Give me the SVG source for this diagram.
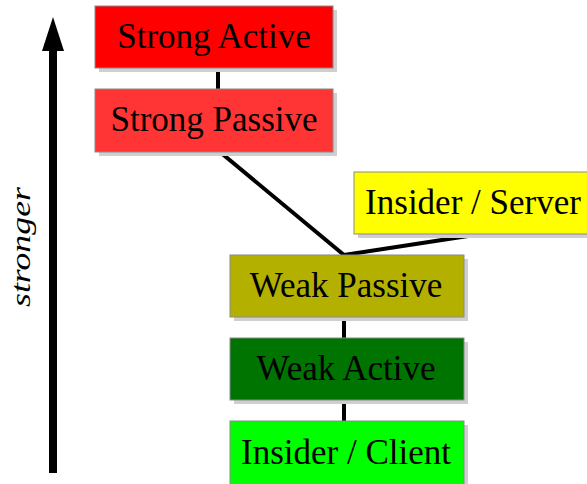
<svg xmlns="http://www.w3.org/2000/svg" width="587" height="484" viewBox="0 0 587 484">
<defs>
<style>
.sh{fill:#cfcfcf}
.bx{stroke:#8a8a8a;stroke-width:1}
.t{font-family:"Liberation Serif","Times New Roman",serif;font-size:35px;fill:#000;text-anchor:middle}
.c{stroke:#000;stroke-width:4;fill:none;stroke-linecap:butt}
</style>
</defs>
<rect width="587" height="484" fill="#ffffff"/>
<g id="axis">
<rect x="49" y="50" width="8" height="423" fill="#000"/>
<polygon points="53,17 42,51 64,51" fill="#000"/>
<text x="30" y="247" transform="rotate(-90 30 247)" font-family="'Liberation Serif','Times New Roman',serif" font-style="italic" font-size="27" text-anchor="middle" textLength="120" lengthAdjust="spacingAndGlyphs" fill="#000">stronger</text>
</g>
<g id="connectors">
<line class="c" x1="218" y1="68" x2="218" y2="89"/>
<line class="c" x1="220" y1="152" x2="344" y2="255"/>
<line class="c" x1="468" y1="236" x2="344" y2="255"/>
<line class="c" x1="344" y1="317" x2="344" y2="338"/>
<line class="c" x1="344" y1="400" x2="344" y2="421"/>
</g>
<g id="strong-active">
<rect class="sh" x="99" y="10" width="238" height="62"/>
<rect class="bx" x="95" y="6" width="238" height="62" fill="#ff0000"/>
<text class="t" x="214" y="48">Strong Active</text>
</g>
<g id="strong-passive">
<rect class="sh" x="99" y="93" width="238" height="63"/>
<rect class="bx" x="95" y="89" width="238" height="63" fill="#ff3535"/>
<text class="t" x="214" y="131">Strong Passive</text>
</g>
<g id="insider-server">
<rect class="sh" x="358" y="176" width="233" height="62"/>
<rect class="bx" x="354" y="172" width="240" height="62" fill="#ffff00"/>
<text class="t" x="473" y="214">Insider / Server</text>
</g>
<g id="weak-passive">
<rect class="sh" x="234" y="259" width="234" height="62"/>
<rect class="bx" x="230" y="255" width="234" height="62" fill="#b3b000"/>
<text class="t" x="346" y="297">Weak Passive</text>
</g>
<g id="weak-active">
<rect class="sh" x="234" y="342" width="234" height="62"/>
<rect class="bx" x="230" y="338" width="234" height="62" fill="#007400"/>
<text class="t" x="346" y="380">Weak Active</text>
</g>
<g id="insider-client">
<rect class="sh" x="234" y="425" width="234" height="62"/>
<rect class="bx" x="230" y="421" width="234" height="64" fill="#00ff00"/>
<text class="t" x="346" y="464">Insider / Client</text>
</g>
</svg>
